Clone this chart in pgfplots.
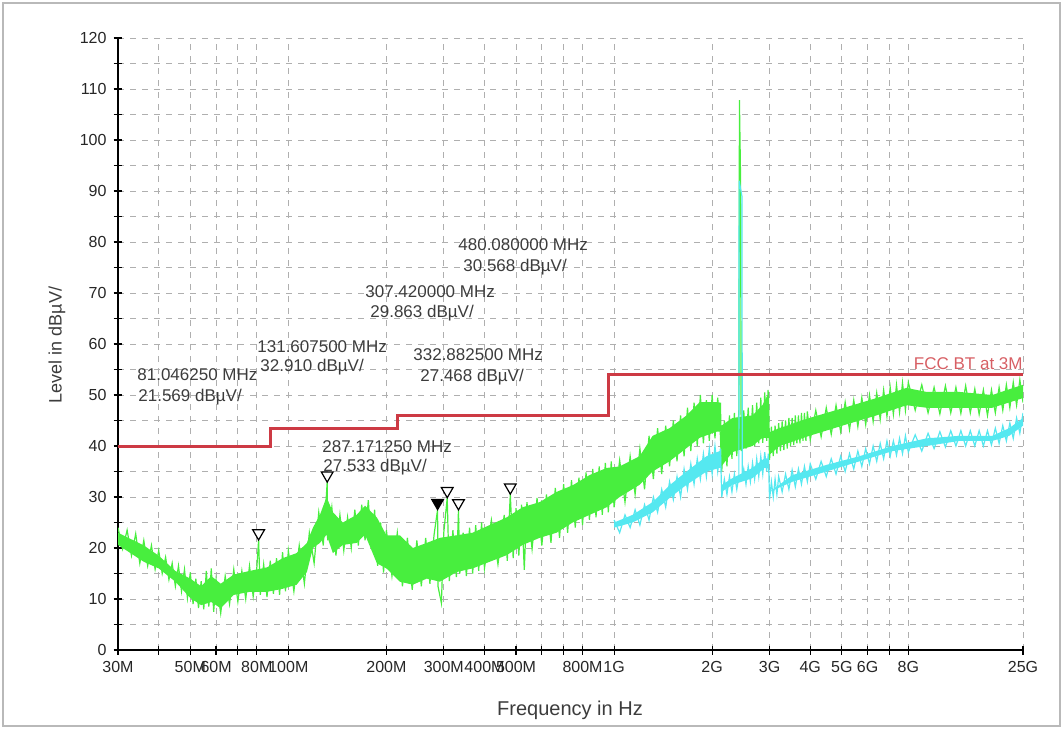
\documentclass[border=0pt]{standalone}
\usepackage{fontspec}
\setmainfont{Liberation Sans}
\usepackage{pgfplots}
\pgfplotsset{compat=1.18}
\definecolor{trgreen}{RGB}{72,238,62}
\definecolor{trcyan}{RGB}{85,232,240}
\definecolor{limred}{RGB}{205,58,68}
\definecolor{txtgray}{RGB}{60,60,60}
\definecolor{gridgray}{RGB}{175,175,175}
\begin{document}
\begin{tikzpicture}
\useasboundingbox (-59pt,-39.5pt) rectangle (472.5pt,325pt);
\draw[color={rgb,255:red,185;green,185;blue,185}, line width=0.8pt] (-57.5pt,-38pt) rectangle (471pt,323.5pt);
\begin{axis}[
  at={(0,0)}, anchor=south west,
  scale only axis, width=452.5pt, height=306pt,
  xmode=log, xmin=30, xmax=18000, ymin=0, ymax=120,
  axis x line=bottom, axis y line=left,
  axis line style={-, black, line width=0.8pt},
  xtick={30,40,50,60,70,80,100,200,300,400,500,600,700,800,1000,2000,3000,4000,5000,6000,7000,8000,18000},
  xticklabels={30M,,50M,60M,,80M,100M,200M,300M,400M,500M,,,800M,1G,2G,3G,4G,5G,6G,,8G,25G},
  minor xtick={},
  ytick={0,10,...,120},
  minor ytick={5,15,...,115},
  xmajorgrids, ymajorgrids, yminorgrids,
  grid style={dashed, color=gridgray, line width=0.4pt},
  minor grid style={dashed, color=gridgray, line width=0.4pt},
  major grid style={dashed, color=gridgray, line width=0.4pt},
  tick align=center, major tick length=4.5pt, minor tick length=4.5pt,
  tick style={black, line width=0.6pt},
  ticklabel style={font=\fontsize{8}{9}\selectfont, text=black!85},
  /pgf/number format/assume math mode=true,
  clip=true,
]
% green trace: core band
\addplot[fill=trgreen, draw=none] coordinates {
(30,23) (36,20.5) (40,18.5) (45,15.5) (50,14) (54,12.5) (58,14.5) (62,13) (68,14.8) (76,15.5)
(86,16.2) (96,18) (106,19) (114,21) (119,24) (125,26.5) (131,30) (137,27) (147,25) (162,26.5)
(172,28.3) (187,26) (200,22.5) (220,22.5) (241,20) (266,21) (292,22) (329,22.5) (368,23) (415,24.5)
(468,26) (524,28) (591,29) (666,31) (746,32.3) (841,34.3) (949,35.7) (1040,36) (1198,38) (1313,42)
(1480,43.5) (1669,46) (1830,48.6) (2061,48.6) (2130,48.5) (2135,44) (2308,45.5) (2659,46) (2853,48) (2960,50)
(2990,50) (3000,42.7) (3220,43.5) (3980,45.5) (5025,47.4) (6390,49.4) (7894,51.4) (9100,50.6) (11490,50.6) (14490,50)
(17000,51.5) (18000,52)
(18000,49.4) (14490,47.5) (11490,47.5) (9100,47.5) (7894,48) (6390,46) (5025,44) (3980,42) (3220,40) (3000,38.3)
(2990,41.6) (2853,41.6) (2659,40) (2308,38.8) (2135,36) (2130,42.8) (2061,42.8) (1830,41.6) (1669,39.6) (1480,37)
(1313,35) (1198,32.4) (1040,30) (949,28) (841,26.5) (746,25) (666,23) (591,22) (524,20.6) (468,18.6)
(415,17.3) (368,16) (329,15.3) (292,13.4) (266,14) (241,12.8) (220,13.4) (200,16) (187,17) (172,22.6)
(162,21) (147,20.6) (137,19) (131,22.6) (125,21) (119,20) (114,15.3) (106,12.8) (96,12) (86,11.4)
(76,11.4) (68,10.8) (62,8.2) (58,9.4) (54,8.8) (50,10.2) (45,13.4) (40,16) (36,17.3) (30,20.6)
} -- cycle;
% green trace: noise
\addplot[trgreen, line width=0.6pt] coordinates {
(30,24.0) (31,19.8) (32,23.5) (33,18.5) (34,22.8) (35,17.0) (36,21.5) (37,16.5) (38,20.5) (39,15.8)
(40,19.5) (41,15.0) (42,18.2) (43,13.8) (44,17.0) (45,12.5) (46,16.5) (47,11.5) (48,15.8) (49,10.2)
(50,15.2) (51,9.0) (52,14.0) (53,8.2) (54,13.5) (55,8.0) (56,15.5) (57,8.5) (58,16.0) (59,7.5)
(60,13.8) (62,7.2) (64,14.5) (66,9.0) (68,15.8) (70,9.5) (72,15.5) (74,10.0) (76,16.5) (78,10.5)
(80,16.0) (81.05,21.57) (82,10.8) (84,16.8) (86,10.4) (88,17.5) (90,11.0) (92,18.0) (94,10.8) (96,19.2) (98,11.5)
(100,19.5) (104,11.5) (108,20.5) (112,13.0) (116,23.0) (120,17.0) (124,27.0) (128,20.5) (131.6,32.91) (132,21.5)
(136,28.0) (140,18.5) (144,26.5) (148,19.5) (152,26.0) (156,20.0) (160,27.5) (164,20.5) (168,28.5) (172,21.5)
(176,29.4) (180,20.0) (184,27.5) (188,16.5) (192,25.0) (196,15.2)
(200,23.5) (208,14.5) (216,23.0) (224,12.5) (232,22.0) (240,11.8) (248,21.5) (256,12.5) (264,22.0) (272,13.0)
(280,22.5) (287.17,27.53) (288,12.5) (295,9.2) (300,23.0) (307.42,29.86) (312,13.5) (320,23.5) (328,14.3)
(332.88,27.47) (336,15.0) (344,23.0) (352,14.5) (360,24.0) (368,15.0) (376,24.5) (384,15.5) (392,25.0)
(400,16.0) (420,25.5) (440,16.8) (460,26.5) (470,17.5) (480.08,30.57) (490,18.0) (500,27.8) (510,18.5) (520,28.5)
(530,15.7) (540,29.0) (560,19.8) (580,29.8) (600,20.5) (620,30.5) (640,21.0) (660,31.8) (680,22.0) (700,32.5)
(720,23.0) (740,33.3) (760,24.0) (780,33.8) (800,24.5) (820,34.8) (840,25.5) (860,35.5) (880,26.0) (900,36.0)
(920,26.5) (940,36.7) (960,27.0) (980,37.0)
(1000,28.0) (1040,37.2) (1080,29.0) (1120,38.0) (1160,30.5) (1200,39.5) (1240,31.5) (1280,42.0) (1320,33.5) (1360,43.5)
(1400,34.5) (1440,44.0) (1480,36.0) (1520,45.0) (1560,37.0) (1600,46.0) (1640,38.0) (1680,47.5) (1720,39.0) (1760,48.5)
(1800,40.0) (1840,50.0) (1880,40.5) (1920,49.0) (1960,41.0)
(2000,50.0) (2040,41.5) (2080,49.5) (2120,42.0) (2140,35.0) (2180,45.0) (2220,36.0) (2260,46.0) (2300,37.5) (2340,46.5)
(2380,38.0) (2415,47.0) (2425,107.8) (2435,100.0) (2445,92.0) (2455,39.0) (2500,47.0) (2540,39.5) (2580,47.5) (2620,40.0)
(2660,48.0) (2700,40.0) (2740,48.5) (2780,40.5) (2820,49.5) (2860,40.6) (2900,50.5) (2940,41.0) (2970,51.0)
(3000,37.3) (3040,43.8) (3080,38.0) (3120,44.0) (3160,38.5) (3200,44.5) (3240,39.0) (3280,44.8) (3320,39.2) (3360,45.0)
(3400,39.5) (3440,45.5) (3480,40.0) (3520,45.5) (3560,40.2) (3600,46.0) (3640,40.5) (3680,46.0) (3720,40.5) (3760,46.5)
(3800,41.0) (3840,46.5) (3880,41.0) (3920,46.8)
(4000,41.2) (4160,47.0) (4320,41.8) (4480,47.5) (4640,42.3) (4800,48.0) (4960,42.8) (5120,48.6) (5280,43.2) (5440,49.0)
(5600,43.8) (5760,49.5) (5920,44.2) (6080,50.0) (6240,44.8) (6400,50.4) (6560,45.2) (6720,51.0) (6880,45.8) (7040,51.5)
(7200,46.2) (7360,52.0) (7520,46.6) (7680,52.4) (7840,47.0)
(8000,52.5) (8400,47.0) (8800,52.0) (9200,46.5) (9600,51.5) (10000,46.3) (10400,51.8) (10800,46.5) (11200,51.5) (11600,46.4)
(12000,51.8) (12400,46.5) (12800,51.2) (13200,46.2) (13600,51.0) (14000,46.0) (14400,51.0) (14800,46.5) (15200,51.5) (15600,47.0)
(16000,52.0) (16400,47.5) (16800,52.5) (17200,48.0) (17600,53.0) (18000,48.5)
};
% cyan trace: core band
\addplot[fill=trcyan, draw=none] coordinates {
(1000,25) (1140,26.5) (1313,29) (1480,32.3) (1669,35) (1923,38) (2108,39) (2130,38.5) (2135,32.3) (2308,33.7)
(2659,35.7) (2896,37.6) (2990,37.5) (3000,31) (3530,34.3) (4487,36.3) (5664,38) (7155,40) (9100,41.5) (11490,42)
(14490,42) (16336,43.5) (18000,45.5)
(18000,44) (16336,42) (14490,41) (11490,41) (9100,40) (7155,39) (5664,37) (4487,35) (3530,33) (3000,31)
(2990,35.7) (2896,35.7) (2659,33.7) (2308,32.4) (2135,31) (2130,35.7) (2108,35.7) (1923,35) (1669,32.4) (1480,29.8)
(1313,27) (1140,25) (1000,24)
} -- cycle;
% cyan trace: noise
\addplot[trcyan, line width=0.6pt] coordinates {
(1000,25.5) (1040,23.0) (1080,26.5) (1120,24.0) (1160,27.5) (1200,24.5) (1240,28.5) (1280,25.5) (1320,30.0) (1360,27.0)
(1400,31.5) (1440,28.0) (1480,33.0) (1520,29.5) (1560,34.0) (1600,30.0) (1640,35.5) (1680,31.5) (1720,36.5) (1760,32.5)
(1800,37.5) (1840,33.5) (1880,38.5) (1920,34.0) (1960,39.5)
(2000,34.5) (2040,40.0) (2080,35.0) (2120,39.5) (2140,30.0) (2180,33.5) (2220,30.5) (2260,34.0) (2300,31.0) (2340,34.5)
(2380,31.5) (2415,34.0) (2420,92.0) (2468,89.0) (2475,34.0) (2500,35.5) (2540,32.5) (2580,36.0) (2620,33.0) (2660,36.7)
(2700,33.5) (2740,37.5) (2780,34.0) (2820,38.0) (2860,34.5) (2900,38.8) (2940,35.0) (2975,38.5)
(3000,29.5) (3040,33.0) (3080,30.0) (3120,33.5) (3160,30.5) (3200,34.0) (3280,31.0) (3360,34.5) (3440,31.5) (3520,35.3)
(3600,32.0) (3680,35.5) (3760,32.5) (3840,36.0) (3920,33.0)
(4000,36.5) (4160,33.5) (4320,37.0) (4480,34.0) (4640,37.5) (4800,34.5) (4960,38.0) (5120,35.0) (5280,38.5) (5440,35.5)
(5600,39.0) (5760,36.0) (5920,39.5) (6080,36.5) (6240,40.0) (6400,37.0) (6560,40.5) (6720,37.5) (6880,41.0) (7040,38.0)
(7200,41.0) (7360,38.2) (7520,41.5) (7680,38.5) (7840,42.0)
(8000,38.8) (8400,42.2) (8800,39.0) (9200,42.5) (9600,39.5) (10000,42.8) (10400,39.8) (10800,43.0) (11200,40.0) (11600,43.0)
(12000,40.0) (12400,43.0) (12800,40.0) (13200,43.0) (13600,40.0) (14000,43.0) (14400,40.2) (14800,43.5) (15200,40.5) (15600,44.0)
(16000,41.0) (16400,44.5) (16800,41.5) (17200,45.5) (17600,42.5) (18000,46.5)
};
% limit line
\addplot[limred, line width=1.5pt, const plot] coordinates {(30,40) (88,43.5) (216,46) (960,54) (18000,54)};
% markers
\addplot[only marks, mark=triangle*, mark size=3.4pt,
  mark options={draw=black, fill=white, line width=0.6pt, yshift=3.4pt, rotate=180}]
  coordinates {(81.04625,21.569) (131.6075,32.910) (307.42,29.863) (332.8825,27.468) (480.08,30.568)};
\addplot[only marks, mark=triangle*, mark size=3.4pt,
  mark options={draw=black, fill=black, line width=0.6pt, yshift=3.4pt, rotate=180}]
  coordinates {(287.17125,27.533)};
\end{axis}
% annotations
\begin{scope}[every node/.style={anchor=west, inner sep=0pt, text=txtgray, font=\fontsize{8.5}{10}\selectfont}]
\node at (9.5pt,137.5pt) {81.046250 MHz};
\node at (10pt,126.5pt) {21.569 dBµV/};
\node at (69.5pt,151.5pt) {131.607500 MHz};
\node at (71pt,141.5pt) {32.910 dBµV/};
\node at (102pt,101.5pt) {287.171250 MHz};
\node at (102.5pt,91.5pt) {27.533 dBµV/};
\node at (123.5pt,179pt) {307.420000 MHz};
\node at (126pt,168.5pt) {29.863 dBµV/};
\node at (147.5pt,147.5pt) {332.882500 MHz};
\node at (151pt,136.5pt) {27.468 dBµV/};
\node at (170pt,202.5pt) {480.080000 MHz};
\node at (172.5pt,191.5pt) {30.568 dBµV/};
\end{scope}
\node[anchor=east, inner sep=0pt, text={rgb,255:red,215;green,95;blue,100}, font=\fontsize{8.5}{10}\selectfont] at (452.5pt,143pt) {FCC BT at 3M};
\node[text=txtgray, font=\fontsize{10}{12}\selectfont] at (226pt,-30pt) {Frequency in Hz};
\node[text=txtgray, rotate=90, font=\fontsize{9}{11}\selectfont] at (-30.5pt,152.5pt) {Level in dBµV/};
\end{tikzpicture}
\end{document}
